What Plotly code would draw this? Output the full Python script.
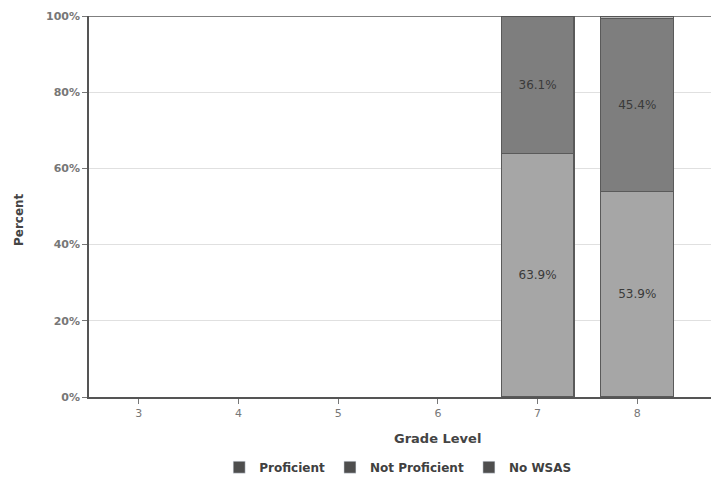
import plotly.graph_objects as go

grades = ["3", "4", "5", "6", "7", "8"]
proficient = [None, None, None, None, 63.9, 53.9]
not_proficient = [None, None, None, None, 36.1, 45.4]
no_wsas = [None, None, None, None, None, 0.7]
y_ticks = [0, 20, 40, 60, 80, 100]
y_tick_labels = ["0%", "20%", "40%", "60%", "80%", "100%"]

FONT = "DejaVu Sans"

def labels(vals, show=True):
    return [f"{v:.1f}%" if (v is not None and v > 5 and show) else "" for v in vals]

fig = go.Figure()
series = [
    ("Proficient", proficient, "#a6a6a6", True),
    ("Not Proficient", not_proficient, "#7e7e7e", True),
    ("No WSAS", no_wsas, "#b8b8b8", False),
]
for name, vals, color, show in series:
    fig.add_trace(go.Bar(
        x=grades, y=vals, name=name,
        marker=dict(color=color, line=dict(color="#5a5a5a", width=1.2)),
        text=labels(vals, show), textposition="inside", insidetextanchor="middle",
        textfont=dict(family=FONT, size=12, color="#3a3a3a"),
        width=0.73, showlegend=False, hoverinfo="skip",
    ))
# legend entries (all rendered in the same dark swatch as in the reference)
for name, _, _, _ in series:
    fig.add_trace(go.Bar(
        x=[None], y=[None], name=name,
        marker=dict(color="#4e4e4e"), showlegend=True,
    ))

fig.update_layout(
    barmode="stack",
    width=712, height=470,
    margin=dict(l=81, r=0, t=8, b=81),
    paper_bgcolor="white", plot_bgcolor="white",
    font=dict(family=FONT, color="#555555"),
    legend=dict(
        orientation="h", x=0.49, xanchor="center",
        yref="container", y=0.023, yanchor="middle",
        font=dict(family=FONT, size=12, color="#404040", weight="bold"),
        itemwidth=30, traceorder="normal",
    ),
    xaxis=dict(
        type="category", range=[-0.5, 5.83],
        showgrid=False, showline=True, linecolor="#555555", linewidth=1.5,
        ticks="outside", ticklen=5, tickcolor="#777777",
        tickfont=dict(family=FONT, size=11, color="#777777"),
    ),
    yaxis=dict(
        range=[0, 100], tickvals=y_ticks, ticktext=y_tick_labels,
        showgrid=True, gridcolor="#e0e0e0", gridwidth=1,
        showline=True, linecolor="#555555", linewidth=1.5,
        ticks="outside", ticklen=5, tickcolor="#777777",
        tickfont=dict(family=FONT, size=11, color="#777777", weight="bold"),
        zeroline=False,
    ),
    annotations=[
        dict(text="<b>Grade Level</b>", xref="paper", yref="paper",
             x=0.553, y=-0.110, xanchor="center", yanchor="middle", showarrow=False,
             font=dict(family=FONT, size=13, color="#444444")),
        dict(text="<b>Percent</b>", xref="paper", yref="paper", textangle=-90,
             x=-0.111, y=0.467, xanchor="center", yanchor="middle", showarrow=False,
             font=dict(family=FONT, size=12, color="#444444")),
    ],
    shapes=[dict(type="line", xref="paper", yref="y", x0=0, x1=1, y0=100, y1=100,
                 line=dict(color="#555555", width=1.5))],
)

fig.write_html("out.html")
